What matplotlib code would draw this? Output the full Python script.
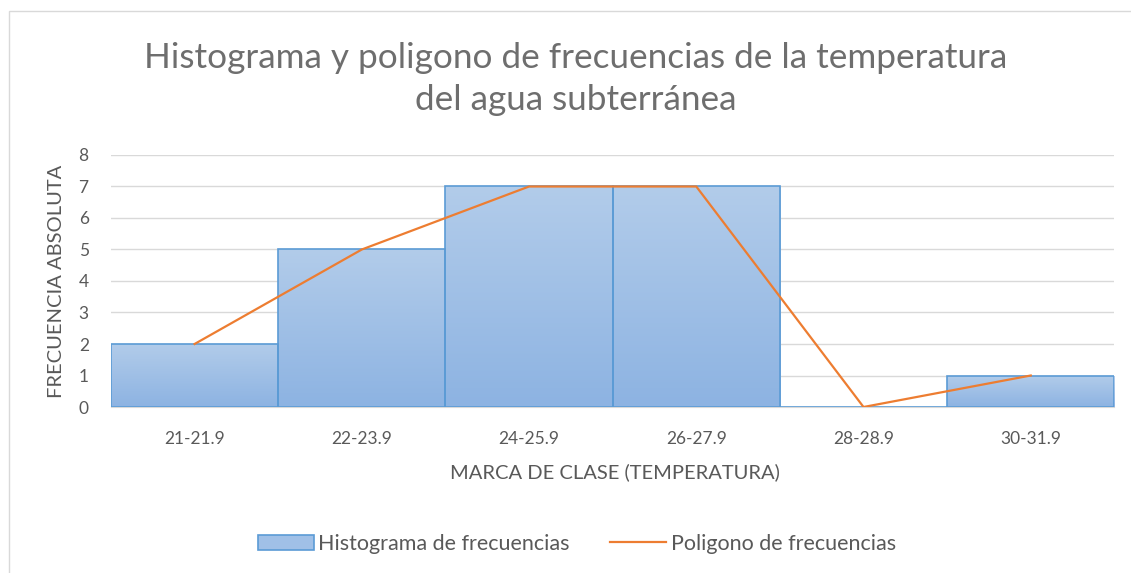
import numpy as np
import matplotlib.pyplot as plt
from matplotlib.colors import LinearSegmentedColormap
from matplotlib.patches import Rectangle
from matplotlib.lines import Line2D

clases = ["21-21.9", "22-23.9", "24-25.9", "26-27.9", "28-28.9", "30-31.9"]
frecuencia = [2, 5, 7, 7, 0, 1]
poligono = [2, 5, 7, 7, 0, 1]

plt.rcParams['font.family'] = ['Lato', 'DejaVu Sans']
gris = "#595959"

fig = plt.figure(figsize=(11.31, 5.73), dpi=100)
ax = fig.add_axes([0.0981, 0.2897, 0.8872, 0.4398])

# marco del grafico
fig.patches.append(Rectangle((9 / 1131, -0.01), 1.2, 1 - 11 / 573 + 0.01, transform=fig.transFigure,
                             fill=False, edgecolor="#D9D9D9", linewidth=1))

x = np.arange(len(clases))
cmap = LinearSegmentedColormap.from_list("azul", ["#8DB3E2", "#B2CCEA"])
grad = np.linspace(0, 1, 100).reshape(-1, 1)

bars = ax.bar(x, frecuencia, width=1.0, color="none", edgecolor="#5B9BD5", linewidth=1.2, zorder=3)
for bar in bars:
    h = bar.get_height()
    if h == 0:
        continue
    x0 = bar.get_x()
    im = ax.imshow(grad, extent=[x0, x0 + bar.get_width(), 0, h], origin="lower",
                   aspect="auto", cmap=cmap, zorder=2)
    im.set_clip_path(bar)

ax.plot(x, poligono, color="#ED7D31", linewidth=1.6, zorder=4)

ax.set_xlim(-0.5, 5.5)
ax.set_ylim(0, 8)
ax.set_yticks(range(9))
ax.set_xticks(x)
ax.set_xticklabels(clases)
ax.grid(axis="y", color="#D9D9D9", linewidth=1, zorder=0)
ax.set_axisbelow(True)
for s in ["top", "right", "left"]:
    ax.spines[s].set_visible(False)
ax.spines["bottom"].set_color("#D9D9D9")
ax.tick_params(axis="both", length=0, labelsize=12.5, labelcolor=gris)
ax.tick_params(axis="x", pad=17)
ax.tick_params(axis="y", pad=16)

ax.set_xlabel("MARCA DE CLASE (TEMPERATURA)", fontsize=14.5, color=gris)
ax.set_ylabel("FRECUENCIA ABSOLUTA", fontsize=14.5, color=gris)
ax.xaxis.set_label_coords(0.502, -0.225)
ax.yaxis.set_label_coords(-0.046, 0.5)

fig.text(0.509, 0.862, "Histograma y poligono de frecuencias de la temperatura\ndel agua subterránea",
         ha="center", va="center", fontsize=25.3, color="#6E6E6E", linespacing=1.4)

handles = [Rectangle((0, 0), 1, 1, facecolor="#A0C0E7", edgecolor="#5B9BD5", linewidth=1.2),
           Line2D([], [], color="#ED7D31", linewidth=1.6)]
fig.legend(handles, ["Histograma de frecuencias", "Poligono de frecuencias"],
           loc="center", bbox_to_anchor=(0.51, 1 - 544 / 573), ncol=2, frameon=False,
           fontsize=15.5, labelcolor=gris, handlelength=2.6, handletextpad=0.2, columnspacing=1.9)

plt.savefig("out.png", dpi=100)
